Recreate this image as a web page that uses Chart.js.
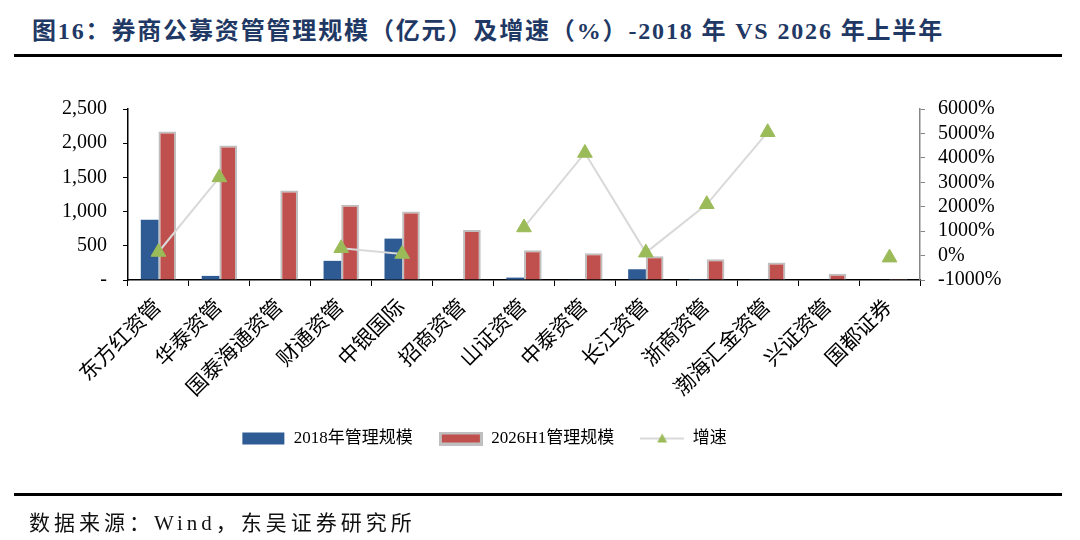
<!DOCTYPE html>
<html lang="zh-CN">
<head>
  <meta charset="UTF-8" />
  <title>券商公募资管管理规模</title>
  <script src="https://cdn.jsdelivr.net/npm/chart.js"></script>
  <style>
    body {
      margin: 0;
      padding: 0;
      background: #fff;
      width: 1080px;
      height: 540px;
      overflow: hidden;
      position: relative;
      font-family: 'Liberation Serif', 'Noto Sans CJK SC', serif;
    }
    .title {
      position: absolute;
      left: 32px;
      top: 11px;
      font-size: 24px;
      font-weight: bold;
      letter-spacing: 1.85px;
      color: #1f3864;
      white-space: nowrap;
    }
    .rule {
      position: absolute;
      left: 14px;
      width: 1048px;
      background: #000;
    }
    .source {
      position: absolute;
      left: 29px;
      top: 506px;
      font-size: 21px;
      letter-spacing: 4px;
      color: #111;
      white-space: nowrap;
    }
    #wrap {
      position: absolute;
      left: 0;
      top: 0;
      width: 1080px;
      height: 540px;
    }
  </style>
</head>
<body>
  <div class="title">图16：券商公募资管管理规模（亿元）及增速（%）-2018 年 VS 2026 年上半年</div>
  <div class="rule" style="top:54px;height:3px;"></div>
  <div id="wrap"><canvas id="chart"></canvas></div>
  <div class="rule" style="top:493px;height:3px;"></div>
  <div class="source">数据来源：Wind，东吴证券研究所</div>

  <script>
    const categories = ['东方红资管', '华泰资管', '国泰海通资管', '财通资管', '中银国际', '招商资管',
      '山证资管', '中泰资管', '长江资管', '浙商资管', '渤海汇金资管', '兴证资管', '国都证券'];
    const scale2018 = [880, 60, null, 280, 605, null, 35, 9, 157, 14, 5, null, 8];
    const scale2026 = [2170, 1965, 1310, 1100, 1000, 730, 435, 390, 348, 305, 255, 93, 1.2];
    const growth = [146, 3200, null, 300, 65, null, 1150, 4200, 120, 2100, 5050, null, -85];
    const leftTicks = [0, 500, 1000, 1500, 2000, 2500];
    const rightTicks = [-1000, 0, 1000, 2000, 3000, 4000, 5000, 6000];

    const FONT = "'Liberation Serif', 'Noto Sans CJK SC', serif";
    const BLUE = '#2f5b94';
    const RED = '#c0504d';
    const GREEN = '#9bbb59';

    // legend icons
    function icon(kind) {
      const c = document.createElement('canvas');
      c.width = 44; c.height = 14;
      const g = c.getContext('2d');
      if (kind === 'blue') {
        g.fillStyle = BLUE;
        g.fillRect(1, 1, 42, 12);
      } else if (kind === 'red') {
        g.fillStyle = '#bfbfbf';
        g.fillRect(0, 0, 44, 14);
        g.fillStyle = RED;
        g.fillRect(3, 3, 38, 8);
      } else {
        g.strokeStyle = '#d9d9d9';
        g.lineWidth = 2;
        g.beginPath(); g.moveTo(0, 7); g.lineTo(44, 7); g.stroke();
        g.fillStyle = GREEN;
        g.beginPath(); g.moveTo(22, 2); g.lineTo(27, 11); g.lineTo(17, 11); g.closePath(); g.fill();
      }
      return c;
    }
    const icons = [icon('blue'), icon('red'), icon('line')];

    // legend sits left of centre in the original
    const shiftLegend = {
      id: 'shiftLegend',
      afterLayout(chart) {
        chart.legend.left -= 56;
        chart.legend.right -= 56;
      }
    };

    new Chart(document.getElementById('chart'), {
      data: {
        labels: categories,
        datasets: [
          {
            type: 'bar', label: '2018年管理规模', data: scale2018,
            backgroundColor: BLUE, borderWidth: 0, yAxisID: 'y', order: 2
          },
          {
            type: 'bar', label: '2026H1管理规模', data: scale2026,
            backgroundColor: RED, borderColor: '#bfbfbf', borderWidth: 2, yAxisID: 'y', order: 3
          },
          {
            type: 'line', label: '增速', data: growth, yAxisID: 'y1', order: 1,
            borderColor: '#d9d9d9', borderWidth: 2, spanGaps: false,
            pointStyle: 'triangle', pointRadius: 8.5,
            pointBackgroundColor: GREEN, pointBorderColor: GREEN, pointBorderWidth: 1
          }
        ]
      },
      plugins: [shiftLegend],
      options: {
        responsive: true,
        maintainAspectRatio: false,
        animation: false,
        layout: { padding: { top: 109, left: 0, right: 0, bottom: 83 } },
        datasets: { bar: { categoryPercentage: 0.58, barPercentage: 1.0 } },
        scales: {
          x: {
            grid: { display: true, drawOnChartArea: false, offset: true, tickLength: 6, color: '#000' },
            border: { color: '#000', width: 1.5 },
            ticks: {
              color: '#000', autoSkip: false, minRotation: 45, maxRotation: 45, padding: 9,
              font: { family: FONT, size: 21 }
            },
            afterFit: s => { s.height = 124; }
          },
          y: {
            position: 'left', min: 0, max: 2500,
            afterBuildTicks: s => { s.ticks = leftTicks.map(v => ({ value: v })); },
            grid: { drawOnChartArea: false, tickLength: 5, color: '#000' },
            border: { color: '#000', width: 1.5 },
            ticks: {
              color: '#000', padding: 16, autoSkip: false, font: { family: FONT, size: 20 },
              callback: v => v === 0 ? '-' : v.toLocaleString('en-US')
            },
            afterFit: s => { s.width = 128; }
          },
          y1: {
            position: 'right', min: -1000, max: 6000,
            afterBuildTicks: s => { s.ticks = rightTicks.map(v => ({ value: v })); },
            grid: { drawOnChartArea: false, tickLength: 5, color: '#868686' },
            border: { color: '#868686', width: 1.5 },
            ticks: {
              color: '#000', padding: 13, autoSkip: false, font: { family: FONT, size: 20 },
              callback: v => v + '%'
            },
            afterFit: s => { s.width = 160; }
          }
        },
        plugins: {
          tooltip: { enabled: false },
          legend: {
            position: 'bottom',
            labels: {
              usePointStyle: true, pointStyleWidth: 44, boxHeight: 14,
              padding: 26, color: '#000',
              font: { family: FONT, size: 17 },
              sort: (a, b) => a.datasetIndex - b.datasetIndex,
              generateLabels: chart => Chart.defaults.plugins.legend.labels.generateLabels(chart)
                .map(item => Object.assign(item, { pointStyle: icons[item.datasetIndex], rotation: 0 }))
            }
          }
        }
      }
    });
  </script>
</body>
</html>
